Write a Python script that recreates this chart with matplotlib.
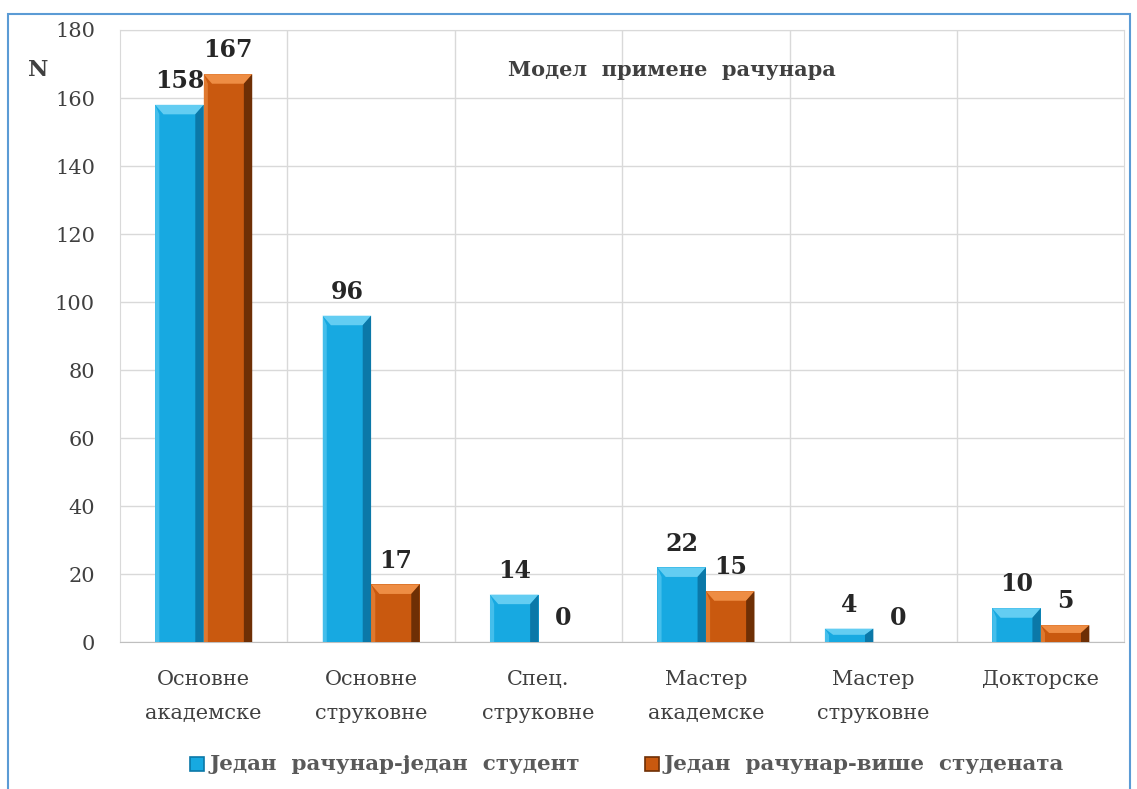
import numpy as np
import matplotlib.pyplot as plt
from matplotlib.patches import Rectangle, Polygon

plt.rcParams['font.family'] = ['DejaVu Serif']

categories = ["Основне\nакадемске", "Основне\nструковне", "Спец.\nструковне",
              "Мастер\nакадемске", "Мастер\nструковне", "Докторске"]
single = [158, 96, 14, 22, 4, 10]
shared = [167, 17, 0, 15, 0, 5]
series_names = ["Један  рачунар-један  студент", "Један  рачунар-више  студената"]
yticks = [0, 20, 40, 60, 80, 100, 120, 140, 160, 180]

# base / light / dark tones for the bevelled bars
blue = ("#17A9E1", "#63CDF2", "#0B78A8")
orange = ("#C9590F", "#EE8D44", "#6E2F05")

fig = plt.figure(figsize=(11.37, 7.89), dpi=100)
ax = fig.add_axes([0.1055, 0.186, 0.8835, 0.776])

x = np.arange(len(categories))
w = 0.29


def bevel_bar(ax, xc, h, colors):
    if h <= 0:
        return
    base, light, dark = colors
    x0, x1 = xc - w / 2, xc + w / 2
    bx = 0.05
    by = min(2.8, h / 2.2)
    ax.add_patch(Rectangle((x0, 0), w, h, fc=base, ec="none", zorder=3))
    # top bevel
    ax.add_patch(Polygon([(x0, h), (x1, h), (x1 - bx, h - by), (x0 + bx, h - by)],
                         fc=light, ec="none", zorder=4))
    # left bevel
    ax.add_patch(Polygon([(x0, 0), (x0, h), (x0 + bx * 0.5, h - by), (x0 + bx * 0.5, 0)],
                         fc=light, ec="none", alpha=0.6, zorder=4))
    # right bevel
    ax.add_patch(Polygon([(x1, 0), (x1, h), (x1 - bx, h - by), (x1 - bx, 0)],
                         fc=dark, ec="none", zorder=4))


for i in range(len(categories)):
    bevel_bar(ax, x[i] - w / 2, single[i], blue)
    bevel_bar(ax, x[i] + w / 2, shared[i], orange)
    ax.text(x[i] - w / 2, single[i] + 3.5, str(single[i]), ha="center", va="bottom",
            fontsize=17, fontweight="bold", color="#262626")
    ax.text(x[i] + w / 2, shared[i] + 3.5, str(shared[i]), ha="center", va="bottom",
            fontsize=17, fontweight="bold", color="#262626")

ax.set_xlim(-0.5, len(categories) - 0.5)
ax.set_ylim(0, 180)
ax.set_yticks(yticks)
ax.set_xticks(x)
ax.set_xticklabels(categories, fontsize=15, color="#404040", linespacing=2.0)
ax.tick_params(axis="y", labelsize=15, labelcolor="#404040", length=0, pad=18)
ax.tick_params(axis="x", length=0, pad=20)

ax.grid(axis="y", color="#D9D9D9", lw=1, zorder=0)
for b in np.arange(0.5, len(categories) - 0.5):
    ax.axvline(b, color="#D9D9D9", lw=1, zorder=0)
for s in ["top", "right", "left"]:
    ax.spines[s].set_color("#D9D9D9")
ax.spines["bottom"].set_color("#BFBFBF")

ax.text(0.549, 0.935, "Модел  примене  рачунара", transform=ax.transAxes, ha="center",
        va="center", fontsize=15, fontweight="bold", color="#404040")
fig.text(38 / 1137, 1 - 70 / 789, "N", ha="center", va="center", fontsize=16,
         fontweight="bold", color="#404040")

# legend
for name, cols, lx in [(series_names[0], blue, 190), (series_names[1], orange, 645)]:
    fig.patches.append(Rectangle((lx / 1137, 1 - 771 / 789), 14 / 1137, 14 / 789,
                                 transform=fig.transFigure, fc=cols[0], ec=cols[2], lw=1.2))
    fig.text((lx + 19) / 1137, 1 - 764 / 789, name, ha="left", va="center",
             fontsize=15.4, fontweight="bold", color="#595959")

# outer frame
fig.patches.append(Rectangle((8 / 1137, -0.05), 1122 / 1137, 1.05 - 14 / 789,
                             transform=fig.transFigure, fc="none", ec="#5B9BD5",
                             lw=1.5, clip_on=False))

fig.savefig("out.png", dpi=100)
